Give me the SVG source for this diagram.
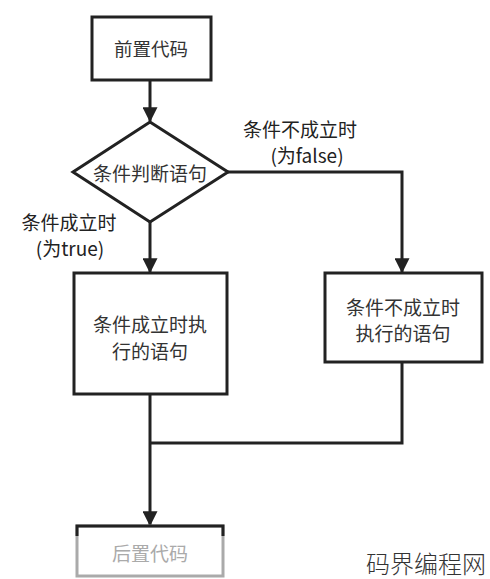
<svg xmlns="http://www.w3.org/2000/svg" width="490" height="579" viewBox="0 0 490 579">
<style>
.box{fill:#fff;stroke:#222;stroke-width:3}
.ln{fill:none;stroke:#222;stroke-width:3}
.t{font-family:"Noto Sans CJK SC","Noto Sans",sans-serif;font-size:19px;fill:#333;text-anchor:middle;dominant-baseline:central}
.lb{font-family:"Noto Sans CJK SC","Noto Sans",sans-serif;font-size:19px;fill:#222;text-anchor:middle;dominant-baseline:central}
</style>
<defs>
<marker id="ah" markerWidth="5" markerHeight="5" refX="4.6" refY="2.5" orient="auto" markerUnits="strokeWidth">
<path d="M0,0 L5,2.5 L0,5 Z" fill="#222"/>
</marker>
</defs>
<rect width="490" height="579" fill="#fff"/>
<g id="connectors">
<line class="ln" x1="150" y1="80" x2="150" y2="121" marker-end="url(#ah)"/>
<line class="ln" x1="150" y1="222" x2="150" y2="272" marker-end="url(#ah)"/>
<polyline class="ln" points="228,172 402,172 402,272" marker-end="url(#ah)"/>
<line class="ln" x1="150" y1="394" x2="150" y2="525" marker-end="url(#ah)"/>
<polyline class="ln" points="402,362 402,443 150,443"/>
</g>
<g id="start">
<rect class="box" x="92" y="17" width="119" height="63"/>
<text class="t" x="151" y="48" style="font-size:18.5px">前置代码</text>
</g>
<g id="decision">
<polygon class="box" points="150,122 228,172 150,222 73,172"/>
<text class="t" x="150" y="172">条件判断语句</text>
</g>
<g id="label-false">
<text class="lb" x="300" y="128">条件不成立时</text>
<text class="lb" x="307" y="154">(为false)</text>
</g>
<g id="label-true">
<text class="lb" x="69" y="221">条件成立时</text>
<text class="lb" x="70" y="247">(为true)</text>
</g>
<g id="true-branch">
<rect class="box" x="74" y="273" width="153" height="121"/>
<text class="t" x="150" y="323">条件成立时执</text>
<text class="t" x="150" y="350">行的语句</text>
</g>
<g id="false-branch">
<rect class="box" x="325" y="273" width="157" height="89"/>
<text class="t" x="403" y="306">条件不成立时</text>
<text class="t" x="403" y="332">执行的语句</text>
</g>
<g id="end">
<rect x="77" y="526" width="146" height="50" fill="#fff" stroke="#aaa" stroke-width="3"/>
<polyline points="77,536 77,526 223,526 223,536" fill="none" stroke="#222" stroke-width="3"/>
<text class="t" x="150" y="552" style="fill:#aaa">后置代码</text>
</g>
<text x="426" y="562" style="font-family:'Noto Sans CJK SC',sans-serif;font-size:24px;fill:#333;text-anchor:middle;dominant-baseline:central;font-weight:300">码界编程网</text>
</svg>
